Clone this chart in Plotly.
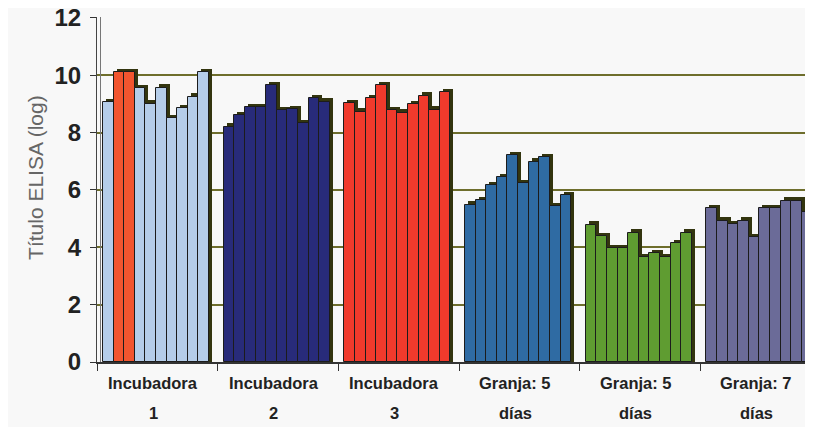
import plotly.graph_objects as go

line1 = ["Incubadora", "Incubadora", "Incubadora", "Granja: 5", "Granja: 5", "Granja: 7"]
line2 = ["1", "2", "3", "días", "días", "días"]

incubadora1 = [9.05, 10.1, 10.1, 9.54, 9.0, 9.57, 8.5, 8.85, 9.25, 10.1]
incubadora2 = [8.21, 8.61, 8.88, 8.88, 9.66, 8.77, 8.81, 8.32, 9.19, 9.08]
incubadora3 = [9.02, 8.73, 9.19, 9.66, 8.77, 8.70, 8.99, 9.28, 8.79, 9.40]
granja5a = [5.48, 5.65, 6.17, 6.44, 7.22, 6.23, 6.99, 7.14, 5.44, 5.82]
granja5b = [4.78, 4.39, 3.96, 3.96, 4.51, 3.65, 3.79, 3.65, 4.14, 4.51]
granja7 = [5.36, 4.93, 4.81, 4.93, 4.35, 5.36, 5.36, 5.63, 5.63, 5.22]

groups = [incubadora1, incubadora2, incubadora3, granja5a, granja5b, granja7]

light_blue = "#b5cde9"
orange_red = "#f2552f"
group_colors = [
    [light_blue, orange_red, orange_red] + [light_blue] * 7,
    ["#282b7a"] * 10,
    ["#f03a2c"] * 10,
    ["#2f6ba3"] * 10,
    ["#5f9c31"] * 10,
    ["#6b6b98"] * 10,
]

cat_px = 120.6
offset = 6.0 / cat_px
bw = 10.6 / cat_px
dx = 3.0 / cat_px
dy = 0.12

xs, ys, cols = [], [], []
for g, vals in enumerate(groups):
    for j, v in enumerate(vals):
        xs.append(g + offset + (j + 0.5) * bw)
        ys.append(v)
        cols.append(group_colors[g][j])

fig = go.Figure()
# 3D depth shading (top and side faces)
fig.add_trace(go.Bar(
    x=[x + dx for x in xs], y=[y + dy for y in ys], width=bw,
    marker=dict(color="#33350f", line=dict(width=0)),
    hoverinfo="skip", showlegend=False))
fig.add_trace(go.Bar(
    x=xs, y=ys, width=bw,
    marker=dict(color=cols, line=dict(color="#1c1c1c", width=1)),
    showlegend=False))

label_font = dict(family="Liberation Sans, Arial", size=16.5, color="#222222", weight="bold")
annotations = [dict(
    text="Título ELISA (log)", xref="paper", yref="paper",
    x=0, y=0.535, xshift=-75, textangle=-90, showarrow=False,
    font=dict(family="Liberation Sans, Arial", size=21, color="#666666"))]
for g in range(len(groups)):
    cx = g + offset + 5 * bw
    annotations.append(dict(text=line1[g], xref="x", yref="paper", x=cx, y=0,
                            yanchor="middle", yshift=-21, xshift=-3,
                            showarrow=False, font=label_font))
    annotations.append(dict(text=line2[g], xref="x", yref="paper", x=cx, y=0,
                            yanchor="middle", yshift=-51, xshift=-3,
                            showarrow=False, font=label_font))

xmax = (813 - 97.5) / cat_px
fig.update_layout(
    width=813, height=427,
    margin=dict(l=89, r=8, t=9, b=73, autoexpand=False),
    paper_bgcolor="#f8f8f8", plot_bgcolor="#f8f8f8",
    barmode="overlay", bargap=0,
    xaxis=dict(
        range=[0, xmax], automargin=False,
        showticklabels=False,
        ticks="outside", ticklen=7, tickcolor="#333333", tickwidth=1.2,
        tickvals=list(range(len(groups) + 1)),
        showgrid=False, zeroline=False,
        showline=True, linecolor="#333333", linewidth=1.5,
    ),
    yaxis=dict(
        range=[0, 12.03], tickvals=[0, 2, 4, 6, 8, 10, 12], automargin=False,
        ticks="outside", ticklen=6, tickcolor="#333333", tickwidth=1.2,
        showgrid=True, gridcolor="#6e6e2c", gridwidth=1.6,
        zeroline=False, showline=True, linecolor="#444444", linewidth=1.2,
        tickfont=dict(family="Liberation Sans, Arial", size=24, color="#222222", weight="bold"),
        ticklabelstandoff=4, ticklabeloverflow="allow",
    ),
    annotations=annotations,
)
fig.add_shape(type="line", xref="x", yref="paper", x0=3.5 / cat_px, x1=3.5 / cat_px,
              y0=0, y1=1, line=dict(color="#777777", width=1))
fig.write_html("out.html")
